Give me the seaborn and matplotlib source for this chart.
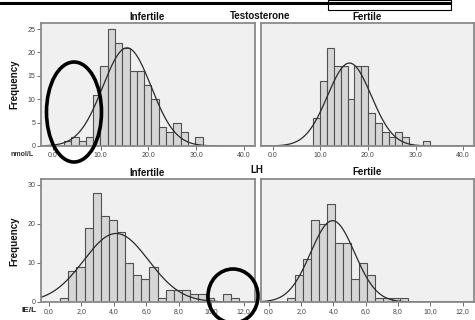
import numpy as np
import pandas as pd
import matplotlib
matplotlib.use("Agg")
import matplotlib.pyplot as plt
import seaborn as sns
from matplotlib.patches import Ellipse, Rectangle
from matplotlib.lines import Line2D

# ---------------- data ----------------
t_inf_start, t_inf_width = 2.3, 1.527
t_inf_counts = [1, 2, 1, 2, 11, 17, 25, 22, 21, 16, 16, 13, 10, 4, 3, 5, 3, 0, 2]
t_inf_mean, t_inf_sd = 15.5, 5.05

t_fer_start, t_fer_width = 8.5, 1.44
t_fer_counts = [6, 14, 21, 17, 17, 10, 17, 17, 7, 5, 3, 2, 3, 2, 0, 0, 1]
t_fer_mean, t_fer_sd = 16.1, 4.6

lh_inf_start, lh_inf_width = 0.7, 0.5
lh_inf_counts = [1, 8, 9, 19, 28, 22, 21, 18, 10, 7, 6, 9, 1, 3, 3, 3, 2, 2, 1, 0, 2, 1]
lh_inf_mean, lh_inf_sd = 4.15, 2.0

lh_fer_start, lh_fer_width = 1.1, 0.5
lh_fer_counts = [1, 7, 11, 21, 20, 25, 15, 15, 6, 10, 7, 1, 1, 1, 1]
lh_fer_mean, lh_fer_sd = 3.95, 1.36

t_xticks = [0, 10, 20, 30, 40]
t_xticklabels = ["0.0", "10.0", "20.0", "30.0", "40.0"]
t_yticks = [0, 5, 10, 15, 20, 25]
lh_xticks = [0, 2, 4, 6, 8, 10, 12]
lh_xticklabels = ["0,0", "2,0", "4,0", "6,0", "8,0", "10,0", "12,0"]
lh_yticks = [0, 10, 20, 30]

# ---------------- style ----------------
sns.set_theme(style="white")
plt.rcParams["font.family"] = ["Liberation Sans", "DejaVu Sans"]

W, H = 475, 320
fig = plt.figure(figsize=(W / 100, H / 100), dpi=100)
fig.patch.set_facecolor("white")


def ax_at(x0, y0, x1, y1):
    return fig.add_axes([x0 / W, 1 - y1 / H, (x1 - x0) / W, (y1 - y0) / H])


def panel(ax, start, width, counts, mean, sd, xlim, ylim, xticks, xlabels,
          yticks, show_y):
    edges = [float(start + width * i) for i in range(len(counts) + 1)]
    centers = [(edges[i] + edges[i + 1]) / 2 for i in range(len(counts))]
    df = pd.DataFrame({"x": centers, "w": counts})
    sns.histplot(data=df, x="x", weights="w", bins=edges, ax=ax,
                 color="#D6D6D6", edgecolor="#505050", linewidth=0.8,
                 alpha=1.0)
    n = sum(counts)
    xs = np.linspace(xlim[0], xlim[1], 400)
    ys = n * width / (sd * np.sqrt(2 * np.pi)) * np.exp(-0.5 * ((xs - mean) / sd) ** 2)
    ax.plot(xs, ys, color="#2a2a2a", linewidth=0.9)
    ax.set_facecolor("#F0F0F0")
    ax.set_xlim(*xlim)
    ax.set_ylim(*ylim)
    ax.set_xlabel("")
    ax.set_ylabel("")
    ax.set_xticks(xticks)
    ax.set_xticklabels(xlabels, fontsize=5, color="#444444")
    ax.tick_params(axis="x", length=3, width=0.6, color="#555555", pad=1.5,
                   bottom=True)
    if show_y:
        ax.set_yticks(yticks)
        ax.set_yticklabels([str(v) for v in yticks], fontsize=5, color="#444444")
        ax.tick_params(axis="y", length=3, width=0.6, color="#555555", pad=1,
                       left=True)
    else:
        ax.set_yticks([])
    for s in ax.spines.values():
        s.set_color("#8a8a8a")
        s.set_linewidth(1.3)
        s.set_visible(True)


t_xlim = (-2.5, 42.3)
lh_xlim = (-0.48, 12.7)

ax1 = ax_at(41, 23, 255, 146)
panel(ax1, t_inf_start, t_inf_width, t_inf_counts, t_inf_mean, t_inf_sd,
      t_xlim, (0, 26.3), t_xticks, t_xticklabels, t_yticks, True)
ax2 = ax_at(261, 23, 474, 146)
panel(ax2, t_fer_start, t_fer_width, t_fer_counts, t_fer_mean, t_fer_sd,
      t_xlim, (0, 26.3), t_xticks, t_xticklabels, t_yticks, False)
ax3 = ax_at(41, 179, 255, 302)
panel(ax3, lh_inf_start, lh_inf_width, lh_inf_counts, lh_inf_mean, lh_inf_sd,
      lh_xlim, (0, 31.5), lh_xticks, lh_xticklabels, lh_yticks, True)
ax4 = ax_at(261, 179, 474, 302)
panel(ax4, lh_fer_start, lh_fer_width, lh_fer_counts, lh_fer_mean, lh_fer_sd,
      lh_xlim, (0, 31.5), lh_xticks, lh_xticklabels, lh_yticks, False)


def ftext(x, y, s, size=7, weight="bold", rot=0, color="#111111"):
    fig.text(x / W, 1 - y / H, s, fontsize=size, fontweight=weight,
             rotation=rot, ha="center", va="center", color=color)


ftext(147, 16.5, "Infertile")
ftext(260, 16, "Testosterone")
ftext(367, 16.5, "Fertile")
ftext(257, 170, "LH")
ftext(147, 173, "Infertile")
ftext(367, 172, "Fertile")
ftext(14, 84, "Frequency", rot=90)
ftext(14, 241, "Frequency", rot=90)
ftext(22, 155, "nmol/L", size=5, color="#333333")
ftext(29, 311, "IE/L", size=6, color="#222222")

# header rule and box
fig.add_artist(Line2D([0, 450 / W], [1 - 3 / H, 1 - 3 / H], color="black",
                      linewidth=2.2, transform=fig.transFigure))
fig.add_artist(Rectangle((328 / W, 1 - 10 / H), 123 / W, 10 / H, fill=False,
                         edgecolor="black", linewidth=0.8,
                         transform=fig.transFigure))

# annotation ellipses
fig.add_artist(Ellipse((74 / W, 1 - 112 / H), 55 / W, 100 / H, fill=False,
                       edgecolor="black", linewidth=2.6,
                       transform=fig.transFigure))
fig.add_artist(Ellipse((233 / W, 1 - 296 / H), 50 / W, 54 / H, fill=False,
                       edgecolor="black", linewidth=2.6,
                       transform=fig.transFigure))

fig.savefig("out.png", dpi=100, facecolor="white")
